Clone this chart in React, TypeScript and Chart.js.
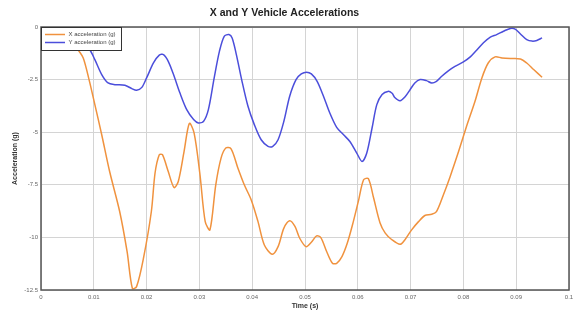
import React, { useEffect, useRef } from "react";
import { Chart, registerables } from "chart.js";

Chart.register(...registerables);

const chartTitle = "X and Y Vehicle Accelerations";
const xAxisTitle = "Time (s)";
const yAxisTitle = "Acceleration (g)";
const seriesNames = ["X acceleration (g)", "Y acceleration (g)"];
const seriesColors = ["#F0923E", "#4B4EDB"];

const xAccelTime = [0, 0.003, 0.0055, 0.007, 0.008, 0.0091, 0.0102, 0.0115, 0.013, 0.0149, 0.0163, 0.0173, 0.0181, 0.0194, 0.0209, 0.0216, 0.0224, 0.023, 0.0241, 0.0252, 0.026, 0.0271, 0.0281, 0.029, 0.0301, 0.0311, 0.032, 0.0331, 0.0341, 0.035, 0.036, 0.0373, 0.0385, 0.0398, 0.0411, 0.0423, 0.0438, 0.0449, 0.046, 0.0471, 0.0481, 0.049, 0.0502, 0.0512, 0.0522, 0.053, 0.0541, 0.0552, 0.056, 0.057, 0.058, 0.059, 0.0601, 0.0611, 0.062, 0.063, 0.0642, 0.0652, 0.0664, 0.068, 0.0689, 0.0702, 0.0715, 0.0727, 0.074, 0.0749, 0.0762, 0.0775, 0.0791, 0.0806, 0.0822, 0.0835, 0.0847, 0.086, 0.0873, 0.0889, 0.0908, 0.092, 0.0933, 0.0949];
const xAccelValues = [0, -0.05, -0.4, -1.07, -1.47, -2.5, -3.69, -5.12, -6.87, -8.77, -10.67, -12.42, -12.34, -11.0, -8.77, -6.94, -6.07, -6.07, -6.87, -7.63, -7.34, -5.91, -4.58, -5.04, -7.0, -9.25, -9.64, -7.5, -6.23, -5.75, -5.79, -6.71, -7.5, -8.21, -9.25, -10.36, -10.8, -10.44, -9.56, -9.21, -9.48, -10.04, -10.44, -10.23, -9.93, -10.01, -10.67, -11.23, -11.23, -10.91, -10.28, -9.4, -8.29, -7.26, -7.21, -8.13, -9.3, -9.8, -10.1, -10.33, -10.12, -9.64, -9.25, -8.96, -8.9, -8.77, -7.98, -7.1, -5.91, -4.72, -3.53, -2.42, -1.71, -1.42, -1.47, -1.5, -1.52, -1.71, -2.02, -2.39];

const yAccelTime = [0, 0.004, 0.007, 0.0092, 0.0102, 0.0115, 0.0127, 0.014, 0.0159, 0.0172, 0.0181, 0.0191, 0.02, 0.0213, 0.0224, 0.0232, 0.0241, 0.0251, 0.0263, 0.0276, 0.0289, 0.0298, 0.0308, 0.0317, 0.0328, 0.0338, 0.0347, 0.0356, 0.0362, 0.037, 0.038, 0.0392, 0.0404, 0.0417, 0.043, 0.0439, 0.0449, 0.046, 0.0471, 0.0483, 0.0493, 0.0503, 0.0512, 0.0523, 0.0535, 0.0547, 0.056, 0.0573, 0.0585, 0.0598, 0.0608, 0.0617, 0.0627, 0.0636, 0.0646, 0.0657, 0.0665, 0.067, 0.068, 0.069, 0.0699, 0.0708, 0.0718, 0.073, 0.074, 0.0749, 0.0759, 0.0772, 0.0784, 0.08, 0.0813, 0.0825, 0.0838, 0.0851, 0.0863, 0.0876, 0.0889, 0.0898, 0.0908, 0.092, 0.093, 0.0939, 0.0949];
const yAccelValues = [0, -0.1, -0.5, -1.07, -1.55, -2.26, -2.66, -2.74, -2.77, -2.93, -3.01, -2.87, -2.42, -1.71, -1.34, -1.31, -1.63, -2.26, -3.13, -3.93, -4.4, -4.56, -4.48, -3.93, -2.42, -1.15, -0.44, -0.36, -0.52, -1.31, -2.5, -3.77, -4.64, -5.36, -5.67, -5.67, -5.36, -4.48, -3.29, -2.5, -2.23, -2.15, -2.23, -2.58, -3.29, -4.09, -4.77, -5.12, -5.44, -5.99, -6.39, -5.99, -4.8, -3.69, -3.21, -3.06, -3.15, -3.35, -3.5, -3.3, -2.98, -2.66, -2.5, -2.55, -2.66, -2.58, -2.34, -2.07, -1.87, -1.66, -1.42, -1.1, -0.75, -0.48, -0.36, -0.2, -0.07, -0.1, -0.33, -0.6, -0.67, -0.64, -0.52];

const xMin = 0;
const xMax = 0.1;
const xStep = 0.01;
const yMin = -12.5;
const yMax = 0;
const yStep = 2.5;

const frameAndLegend = {
  id: "frameAndLegend",
  afterDraw(chart: any) {
    const { ctx, chartArea } = chart;
    const { left, top, right, bottom } = chartArea;
    ctx.save();
    ctx.strokeStyle = "#555555";
    ctx.lineWidth = 1.5;
    ctx.strokeRect(left, top, right - left, bottom - top);
    const bx = left + 0.5;
    const by = top + 0.5;
    const bw = 80;
    const bh = 23;
    ctx.fillStyle = "#ffffff";
    ctx.fillRect(bx, by, bw, bh);
    ctx.strokeStyle = "#333333";
    ctx.lineWidth = 1;
    ctx.strokeRect(bx, by, bw, bh);
    ctx.font = "6px 'Liberation Sans', Arial, sans-serif";
    ctx.textBaseline = "middle";
    ctx.textAlign = "left";
    seriesNames.forEach((name, i) => {
      const yy = top + 7.5 + i * 8;
      ctx.strokeStyle = seriesColors[i];
      ctx.lineWidth = 1.5;
      ctx.beginPath();
      ctx.moveTo(left + 4, yy);
      ctx.lineTo(left + 24, yy);
      ctx.stroke();
      ctx.fillStyle = "#444444";
      ctx.fillText(name, left + 27.5, yy);
    });
    ctx.restore();
  },
};

export default function App() {
  const ref = useRef<HTMLCanvasElement>(null);

  useEffect(() => {
    if (!ref.current) return;
    const chart = new Chart(ref.current, {
      type: "line",
      data: {
        datasets: [
          {
            label: seriesNames[0],
            data: xAccelTime.map((t, i) => ({ x: t, y: xAccelValues[i] })),
            borderColor: seriesColors[0],
            backgroundColor: seriesColors[0],
            borderWidth: 1.5,
            pointRadius: 0,
            tension: 0.3,
            fill: false,
          },
          {
            label: seriesNames[1],
            data: yAccelTime.map((t, i) => ({ x: t, y: yAccelValues[i] })),
            borderColor: seriesColors[1],
            backgroundColor: seriesColors[1],
            borderWidth: 1.5,
            pointRadius: 0,
            tension: 0.3,
            fill: false,
          },
        ],
      },
      options: {
        animation: false,
        responsive: false,
        maintainAspectRatio: false,
        layout: { padding: { left: 0, right: 5, top: 0, bottom: 0 } },
        plugins: {
          legend: { display: false },
          tooltip: { enabled: false },
          title: {
            display: true,
            text: chartTitle,
            color: "#222222",
            font: { family: "'Liberation Sans', Arial, sans-serif", size: 10.5, weight: "bold" },
            padding: { top: 7, bottom: 7.4 },
          },
        },
        scales: {
          x: {
            type: "linear",
            min: xMin,
            max: xMax,
            afterFit: (scale: any) => {
              scale.height = 20;
              scale.paddingRight = 0;
              scale.paddingLeft = 0;
            },
            ticks: {
              stepSize: xStep,
              padding: 4,
              color: "#666666",
              font: { family: "'Liberation Sans', Arial, sans-serif", size: 6 },
              maxRotation: 0,
              autoSkip: false,
              callback: (v: any) => String(+Number(v).toFixed(2)),
            },
            grid: { color: "#d4d4d4", lineWidth: 1, drawTicks: false },
            border: { display: false },
            title: {
              display: true,
              text: xAxisTitle,
              color: "#333333",
              font: { family: "'Liberation Sans', Arial, sans-serif", size: 7, weight: "bold" },
              padding: { top: 0, bottom: 0 },
            },
          },
          y: {
            type: "linear",
            min: yMin,
            max: yMax,
            afterFit: (scale: any) => {
              scale.width = 41;
              scale.paddingTop = 0;
              scale.paddingBottom = 0;
            },
            ticks: {
              stepSize: yStep,
              padding: 3,
              color: "#666666",
              font: { family: "'Liberation Sans', Arial, sans-serif", size: 6 },
            },
            grid: { color: "#d4d4d4", lineWidth: 1, drawTicks: false },
            border: { display: false },
            title: {
              display: true,
              text: yAxisTitle,
              color: "#333333",
              font: { family: "'Liberation Sans', Arial, sans-serif", size: 7, weight: "bold" },
              padding: { top: 11, bottom: 0 },
            },
          },
        },
      },
      plugins: [frameAndLegend],
    });
    return () => chart.destroy();
  }, []);

  return (
    <div style={{ position: "fixed", left: 0, top: 0, width: 574, height: 310, background: "#ffffff" }}>
      <canvas ref={ref} width={574} height={310} style={{ width: 574, height: 310 }} />
    </div>
  );
}
